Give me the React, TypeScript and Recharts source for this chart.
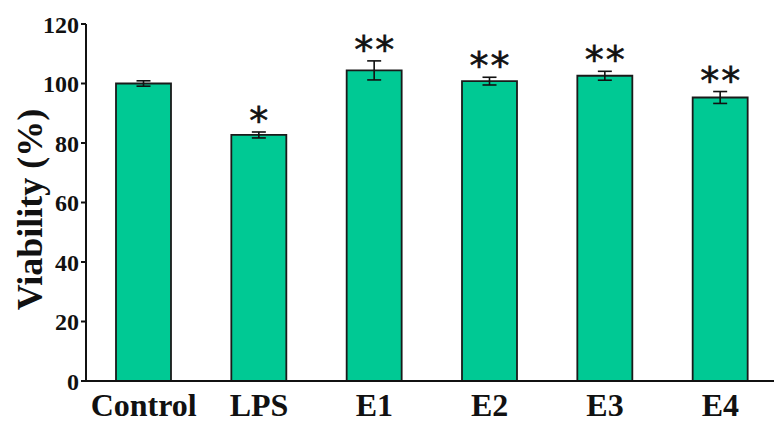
import { Bar, BarChart, ErrorBar, LabelList, XAxis, YAxis } from "recharts";

// viability per group, mean ± sd
const groups = ["Control", "LPS", "E1", "E2", "E3", "E4"];
const viability = [100, 82.7, 104.4, 100.8, 102.6, 95.3];
const sd = [0.9, 1.0, 3.2, 1.3, 1.5, 2.0];
const marks = ["", "*", "**", "**", "**", "**"];
const yTicks = [0, 20, 40, 60, 80, 100, 120];

const data = groups.map((name, i) => ({
  name,
  value: viability[i],
  err: sd[i],
  mark: marks[i],
}));

const serif = "'Liberation Serif', 'Times New Roman', serif";
const ink = "#111";

// significance stars sit just above each error bar
const renderMark = (props: any) => {
  const { x, y, width, height, index } = props;
  const row = data[index];
  if (!row || !row.mark) return null;
  const pxPerUnit = height / row.value;
  const top = y - row.err * pxPerUnit;
  const cx = x + width / 2;
  const n = row.mark.length;
  const step = 21;
  return (
    <g>
      {Array.from({ length: n }).map((_, k) => (
        <text
          key={k}
          x={cx + (k - (n - 1) / 2) * step}
          y={top + 2}
          textAnchor="middle"
          fontFamily="'DejaVu Sans', sans-serif"
          fontSize={38}
          fill={ink}
          stroke={ink}
          strokeWidth={0.6}
        >
          *
        </text>
      ))}
    </g>
  );
};

const renderYTitle = (props: any) => {
  const { viewBox } = props;
  const cx = viewBox.x + 30;
  const cy = viewBox.y + viewBox.height / 2 + 7;
  return (
    <text
      x={cx}
      y={cy}
      transform={`rotate(-90, ${cx}, ${cy})`}
      textAnchor="middle"
      dominantBaseline="central"
      fontFamily={serif}
      fontWeight="bold"
      fontSize={36}
      fill={ink}
    >
      Viability (%)
    </text>
  );
};

export default function App() {
  return (
    <div
      style={{
        position: "absolute",
        left: 0,
        top: 0,
        width: 774,
        height: 427,
        overflow: "hidden",
        background: "#fff",
      }}
    >
      <BarChart
        width={780}
        height={427}
        data={data}
        margin={{ top: 24, right: 2, bottom: 0, left: 0 }}
        barCategoryGap={0}
      >
        <XAxis
          dataKey="name"
          height={46}
          axisLine={{ stroke: ink, strokeWidth: 2 }}
          tickLine={false}
          tick={{
            fill: ink,
            fontFamily: serif,
            fontWeight: "bold",
            fontSize: 32,
          }}
          tickMargin={6}
          interval={0}
        />
        <YAxis
          width={86}
          domain={[0, 120]}
          ticks={yTicks}
          interval={0}
          axisLine={{ stroke: ink, strokeWidth: 2 }}
          tickLine={{ stroke: ink, strokeWidth: 2 }}
          tickSize={5}
          tickMargin={2}
          tick={{
            fill: ink,
            fontFamily: serif,
            fontWeight: "bold",
            fontSize: 24,
          }}
          label={renderYTitle}
        />
        <Bar
          dataKey="value"
          fill="#00C994"
          stroke="#1a1a1a"
          strokeWidth={1.8}
          barSize={55}
          isAnimationActive={false}
        >
          <ErrorBar
            dataKey="err"
            width={7}
            stroke={ink}
            strokeWidth={1.6}
            isAnimationActive={false}
          />
          <LabelList dataKey="mark" content={renderMark} />
        </Bar>
      </BarChart>
    </div>
  );
}
